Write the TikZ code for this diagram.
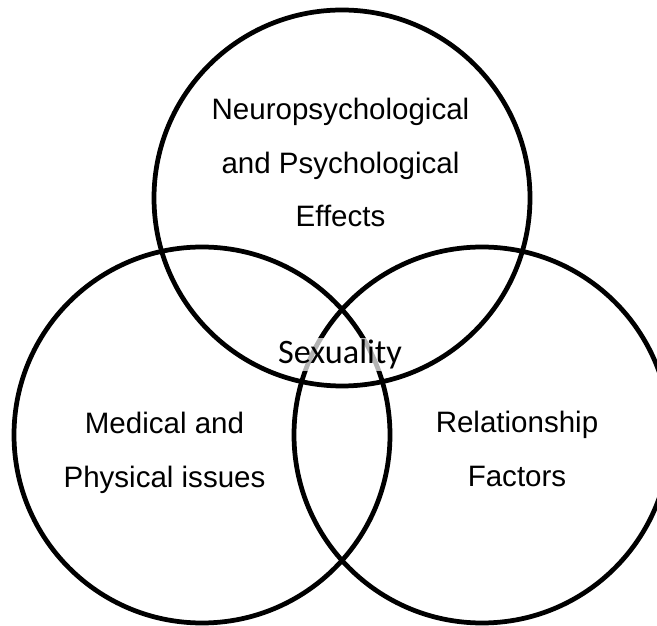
\documentclass[tikz,border=0pt]{standalone}
\usepackage{fontspec}
\setmainfont{Liberation Sans}
\newfontfamily\calibrifont{Carlito}
\usetikzlibrary{calc}

\begin{document}
\begin{tikzpicture}
   \def\rad{3.76}
   \def\lw{2.7pt}
   \tikzset{label text/.style={font=\fontsize{16.8}{30.6}\selectfont, align=center, inner sep=0pt}}
   \useasboundingbox (0,0) rectangle (13.14,12.5);
   \clip (0,0) rectangle (13.14,12.5);
   % circle centres
   \coordinate (ctop) at (6.84,8.54);
   \coordinate (cleft) at (4.04,3.80);
   \coordinate (cright) at (9.64,3.80);
   \draw[line width=\lw] (ctop) circle (\rad);
   \draw[line width=\lw] (cleft) circle (\rad);
   \draw[line width=\lw] (cright) circle (\rad);
   % labels
   \node[label text] (neuro) at (6.81,9.25) {Neuropsychological\\and Psychological\\Effects};
   \node[label text] (medical) at (3.29,3.45) {Medical and\\Physical issues};
   \node[label text] (relation) at (10.34,3.52) {Relationship\\Factors};
   \node[font=\calibrifont\fontsize{19.5}{23}\selectfont, anchor=base, fill=white, fill opacity=0.7, text opacity=1, inner sep=1pt] (sex) at (6.8,5.22) {Sexuality};
\end{tikzpicture}
\end{document}
